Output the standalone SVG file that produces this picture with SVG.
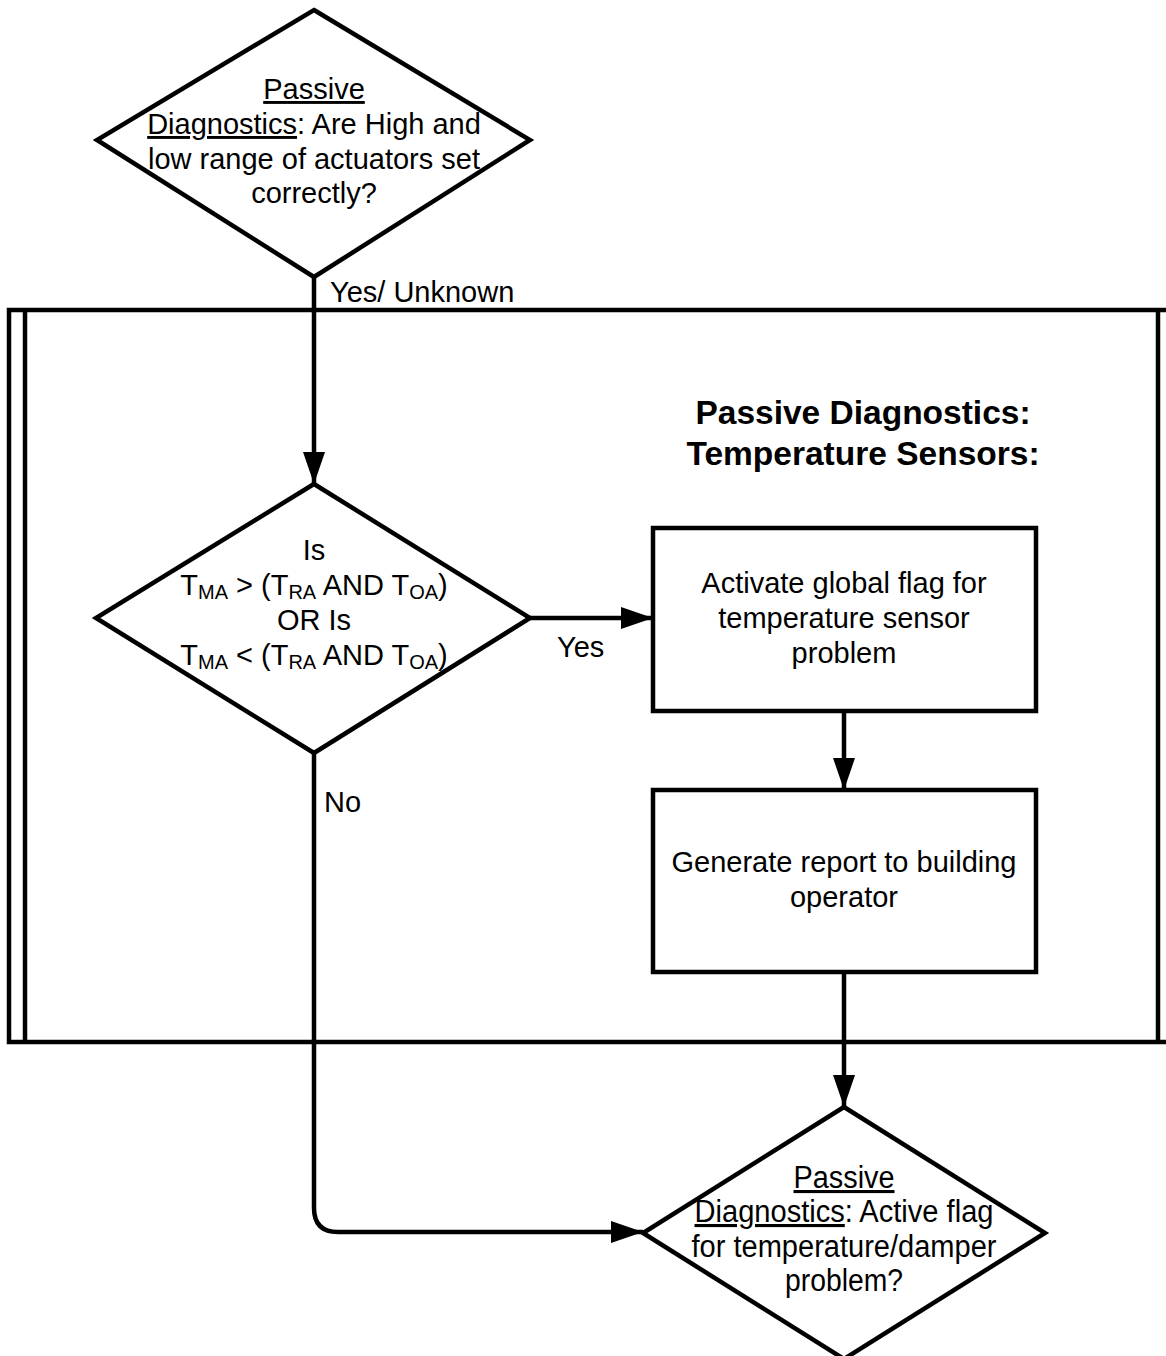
<svg xmlns="http://www.w3.org/2000/svg" width="1166" height="1356" viewBox="0 0 1166 1356">
<defs>
<style>
.shape{fill:#fff;stroke:#000;stroke-width:4.5;stroke-linejoin:miter}
.conn{fill:none;stroke:#000;stroke-width:4.5}
.t{font-family:"Liberation Sans",Arial,sans-serif;font-size:29px;fill:#000;text-anchor:middle}
.lbl{font-family:"Liberation Sans",Arial,sans-serif;font-size:29px;fill:#000}
.title{font-family:"Liberation Sans",Arial,sans-serif;font-size:33.5px;font-weight:bold;fill:#000;text-anchor:middle}
.c{font-family:"Liberation Sans",Arial,sans-serif;font-size:31px;fill:#000;text-anchor:middle}
.u{text-decoration:underline}
.sub{font-size:20px}
</style>
<marker id="arr" markerUnits="userSpaceOnUse" markerWidth="32" markerHeight="22" refX="32" refY="11" orient="auto">
<path d="M0,0 L32,11 L0,22 z" fill="#000"/>
</marker>
</defs>
<rect width="1166" height="1356" fill="#fff"/>

<g id="frame">
<rect x="9" y="310" width="1175" height="732" fill="none" stroke="#000" stroke-width="4.5"/>
<line x1="25" y1="310" x2="25" y2="1042" stroke="#000" stroke-width="4.5"/>
<line x1="1158" y1="310" x2="1158" y2="1042" stroke="#000" stroke-width="4.5"/>
<text class="title" x="863" y="424">Passive Diagnostics:</text>
<text class="title" x="863" y="465">Temperature Sensors:</text>
</g>

<g id="connectors">
<line class="conn" x1="314" y1="277" x2="314" y2="484" marker-end="url(#arr)"/>
<line class="conn" x1="530" y1="618" x2="653" y2="618" marker-end="url(#arr)"/>
<line class="conn" x1="844" y1="711" x2="844" y2="790" marker-end="url(#arr)"/>
<line class="conn" x1="844" y1="972" x2="844" y2="1107" marker-end="url(#arr)"/>
<path class="conn" d="M314,753 L314,1208 Q314,1232 338,1232 L643,1232" marker-end="url(#arr)"/>
<text class="lbl" x="330" y="302">Yes/ Unknown</text>
<text class="lbl" x="557" y="657">Yes</text>
<text class="lbl" x="324" y="812">No</text>
</g>

<g id="n1">
<polygon class="shape" points="314,10 530,140 314,277 97,140"/>
<text class="t" x="314" y="99"><tspan class="u">Passive</tspan></text>
<text class="t" x="314" y="134"><tspan class="u">Diagnostics</tspan>: Are High and</text>
<text class="t" x="314" y="169">low range of actuators set</text>
<text class="t" x="314" y="203">correctly?</text>
</g>

<g id="n2">
<polygon class="shape" points="314,484 530,618 314,753 96,618"/>
<text class="t" x="314" y="560">Is</text>
<text class="t" x="314" y="595">T<tspan class="sub" dy="4">MA</tspan><tspan dy="-4"> &gt; (T</tspan><tspan class="sub" dy="4">RA</tspan><tspan dy="-4"> AND T</tspan><tspan class="sub" dy="4">OA</tspan><tspan dy="-4">)</tspan></text>
<text class="t" x="314" y="630">OR Is</text>
<text class="t" x="314" y="665">T<tspan class="sub" dy="4">MA</tspan><tspan dy="-4"> &lt; (T</tspan><tspan class="sub" dy="4">RA</tspan><tspan dy="-4"> AND T</tspan><tspan class="sub" dy="4">OA</tspan><tspan dy="-4">)</tspan></text>
</g>

<g id="n3">
<rect class="shape" x="653" y="528" width="383" height="183"/>
<text class="t" x="844" y="593">Activate global flag for</text>
<text class="t" x="844" y="628">temperature sensor</text>
<text class="t" x="844" y="663">problem</text>
</g>

<g id="n4">
<rect class="shape" x="653" y="790" width="383" height="182"/>
<text class="t" x="844" y="872">Generate report to building</text>
<text class="t" x="844" y="907">operator</text>
</g>

<g id="n5">
<polygon class="shape" points="844,1107 1045,1233 844,1359 643,1233"/>
<text class="c" x="844" y="1188" textLength="101" lengthAdjust="spacingAndGlyphs"><tspan class="u">Passive</tspan></text>
<text class="c" x="844" y="1222" textLength="299" lengthAdjust="spacingAndGlyphs"><tspan class="u">Diagnostics</tspan>: Active flag</text>
<text class="c" x="844" y="1257" textLength="305" lengthAdjust="spacingAndGlyphs">for temperature/damper</text>
<text class="c" x="844" y="1291" textLength="118" lengthAdjust="spacingAndGlyphs">problem?</text>
</g>
</svg>
